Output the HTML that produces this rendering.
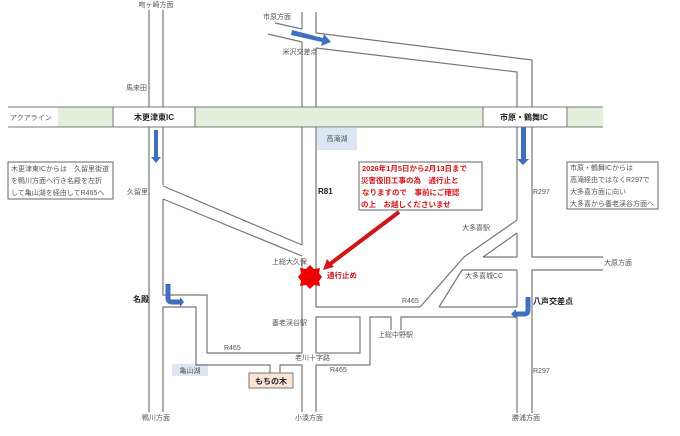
<!DOCTYPE html>
<html><head><meta charset="utf-8"><style>
html,body{margin:0;padding:0;background:#fff;}
svg{display:block;font-family:"Liberation Sans","Noto Sans CJK JP",sans-serif;}
.t{font-size:7px;fill:#555;}
.b{font-size:8px;font-weight:bold;fill:#222;}
.r{font-size:7.5px;font-weight:bold;fill:#d0161b;}
</style></head><body>
<svg width="680" height="436" viewBox="0 0 680 436">
<!-- highway -->
<rect x="58" y="107" width="55" height="20" fill="#e2efda"/>
<rect x="195" y="107" width="288" height="20" fill="#e2efda"/>
<rect x="567" y="107" width="36" height="20" fill="#e2efda"/>
<g stroke="#777" stroke-width="1" fill="none">
<line x1="8" y1="107" x2="603" y2="107"/>
<line x1="8" y1="127" x2="603" y2="127"/>
<line x1="113" y1="107" x2="113" y2="127"/>
<line x1="195" y1="107" x2="195" y2="127"/>
<line x1="483" y1="107" x2="483" y2="127"/>
<line x1="567" y1="107" x2="567" y2="127"/>
</g>
<rect x="317" y="128" width="40" height="22" fill="#dce6f2"/>
<rect x="172" y="364" width="36" height="12" fill="#dce6f2"/>
<g stroke="#777" stroke-width="1.2" fill="none">
<!-- left road -->
<line x1="149" y1="10" x2="149" y2="107"/>
<line x1="163" y1="10" x2="163" y2="107"/>
<line x1="149" y1="127" x2="149" y2="412"/>
<line x1="163" y1="127" x2="163" y2="185"/>
<polyline points="163,199 163,295 207,295 207,353 302,353"/>
<polyline points="163,412 163,307 196,307 196,365 270,365 270,380"/>
<polyline points="280,380 280,365 302,365 302,412"/>
<line x1="163" y1="186" x2="302" y2="245"/>
<line x1="163" y1="199" x2="302" y2="256"/>
<!-- R81 -->
<line x1="302" y1="12" x2="302" y2="29"/>
<line x1="302" y1="42" x2="302" y2="107"/>
<line x1="316" y1="12" x2="316" y2="33"/>
<line x1="316" y1="48" x2="316" y2="107"/>
<line x1="302" y1="127" x2="302" y2="245"/>
<line x1="302" y1="258" x2="302" y2="353"/>
<polyline points="316,127 316,307 420,307 464,257 517,220"/>
<line x1="316" y1="365" x2="316" y2="412"/>
<!-- yonezawa -->
<line x1="275" y1="23" x2="302" y2="29"/>
<line x1="268" y1="34" x2="302" y2="42"/>
<polyline points="316,33 532,60 532,107"/>
<polyline points="316,48 517,72 517,107"/>
<!-- box and lower -->
<rect x="316" y="317" width="44" height="36"/>
<polyline points="316,365 370,365 370,317 391,317 391,330"/>
<polyline points="401,330 401,317 517,317 517,413"/>
<!-- R297 -->
<line x1="517" y1="127" x2="517" y2="220"/>
<line x1="517" y1="233" x2="517" y2="257"/>
<line x1="517" y1="270" x2="517" y2="307"/>
<polyline points="532,127 532,257 603,257"/>
<polyline points="603,270 532,270 532,413"/>
<polyline points="439,307 462,270 517,270"/>
<line x1="439" y1="307" x2="517" y2="307"/>
<polyline points="483,257 517,233"/>
<line x1="483" y1="257" x2="517" y2="257"/>
</g>
<!-- boxes -->
<rect x="8" y="162" width="105" height="37" fill="#fff" stroke="#666"/>
<rect x="359" y="162" width="123" height="48" fill="#fff" stroke="#666"/>
<rect x="567" y="162" width="91" height="47" fill="#fff" stroke="#666"/>
<rect x="249" y="373" width="44" height="15" fill="#fbe5d6" stroke="#777"/>
<!-- blue arrows -->
<g fill="#3f6fbf" stroke="none">
<polygon points="292,30 323,38 324,34 331,42 321,46 322,42 291,35"/>
<polygon points="154,130 158,130 158,157 161,157 156,163 151,157 154,157"/>
<polygon points="521,127 526,127 526,159 529,159 523,165 517,159 521,159"/>
</g>
<path d="M168,284 L168,298 Q168,302 172,302 L180,302" stroke="#3f6fbf" stroke-width="5" fill="none"/>
<polygon points="180,297 184,302 180,307" fill="#3f6fbf"/>
<path d="M528,297 L528,310 Q528,314 524,314 L516,314" stroke="#3f6fbf" stroke-width="5" fill="none"/>
<polygon points="516,309 511,314 516,319" fill="#3f6fbf"/>
<!-- red arrow -->
<line x1="399" y1="212" x2="330" y2="264" stroke="#d0161b" stroke-width="4"/>
<polygon points="323,270 327,259 334,267" fill="#d0161b"/>
<polygon fill="#ee0000" points="310,265 314,269 320,268 319,273 322,277 319,281 320,286 314,285 310,289 306,285 300,286 301,281 298,277 301,273 300,268 306,269"/>
<!-- text -->
<text class="t" x="156" y="7" text-anchor="middle">吻ヶ崎方面</text>
<text class="t" x="263" y="19">市原方面</text>
<text class="t" x="300" y="54" text-anchor="middle">米沢交差点</text>
<text class="t" x="126" y="90">馬来田</text>
<text class="t" x="10" y="120">アクアライン</text>
<text class="b" x="154" y="120" text-anchor="middle">木更津東IC</text>
<text class="b" x="524" y="120" text-anchor="middle">市原・鶴舞IC</text>
<text class="t" x="337" y="141" text-anchor="middle">高滝湖</text>
<text class="t" x="11" y="171">木更津東ICからは　久留里街道</text>
<text class="t" x="11" y="183">を鴨川方面へ行き名殿を左折</text>
<text class="t" x="11" y="195">して亀山湖を経由してR465へ</text>
<text class="t" x="127" y="194">久留里</text>
<text class="b" x="318" y="194">R81</text>
<text class="r" x="362" y="171">2026年1月5日から2月13日まで</text>
<text class="r" x="361" y="183">災害復旧工事の為　通行止と</text>
<text class="r" x="362" y="195">なりますので　事前にご確認</text>
<text class="r" x="361" y="207">の上　お越しくださいませ</text>
<text class="t" x="570" y="170">市原・鶴舞ICからは</text>
<text class="t" x="570" y="182">高滝経由ではなくR297で</text>
<text class="t" x="570" y="194">大多喜方面に向い</text>
<text class="t" x="570" y="206">大多喜から養老渓谷方面へ</text>
<text class="t" x="533" y="194">R297</text>
<text class="t" x="462" y="230">大多喜駅</text>
<text class="t" x="272" y="264">上総大久保</text>
<text class="r" x="327" y="278">通行止め</text>
<text class="t" x="465" y="278">大多喜城CC</text>
<text class="t" x="604" y="265">大原方面</text>
<text class="t" x="402" y="303">R465</text>
<text class="b" x="133" y="302">名殿</text>
<text class="b" x="533" y="304">八声交差点</text>
<text class="t" x="272" y="325">養老渓谷駅</text>
<text class="t" x="378" y="337">上総中野駅</text>
<text class="t" x="224" y="350">R465</text>
<text class="t" x="295" y="360">老川十字路</text>
<text class="t" x="330" y="372">R465</text>
<text class="t" x="190" y="373" text-anchor="middle">亀山湖</text>
<text class="t" x="533" y="373">R297</text>
<text class="b" x="271" y="384" text-anchor="middle">もちの木</text>
<text class="t" x="156" y="420" text-anchor="middle">鴨川方面</text>
<text class="t" x="309" y="420" text-anchor="middle">小湊方面</text>
<text class="t" x="526" y="420" text-anchor="middle">勝浦方面</text>
</svg>
</body></html>
